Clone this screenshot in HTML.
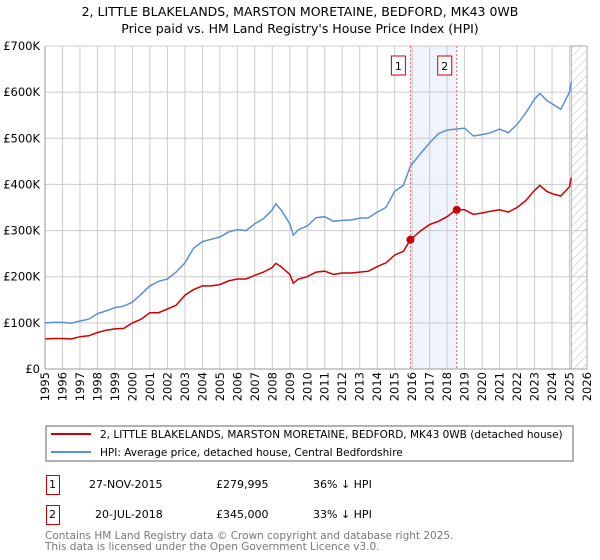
<!DOCTYPE html>
<html><head><meta charset="utf-8"><style>
body{margin:0;background:#fff;font-family:"DejaVu Sans","Liberation Sans",sans-serif;}
#wrap{position:relative;width:600px;height:560px;overflow:hidden;}
</style></head><body>
<div id="wrap">
<svg id="chart" width="600" height="560" font-family="DejaVu Sans, Liberation Sans, sans-serif">
<defs><pattern id="hatch" width="6" height="6" patternUnits="userSpaceOnUse" patternTransform="rotate(45)"><line x1="0" y1="0" x2="0" y2="6" stroke="#bbb" stroke-width="1"/></pattern></defs>
<text x="300" y="16" text-anchor="middle" font-size="12.5">2, LITTLE BLAKELANDS, MARSTON MORETAINE, BEDFORD, MK43 0WB</text>
<text x="300" y="33" text-anchor="middle" font-size="12.5">Price paid vs. HM Land Registry's House Price Index (HPI)</text>
<g id="grid"></g><g id="marks"></g><g id="axes"></g>
<rect x="46" y="426" width="527" height="35" fill="#fff" stroke="#666"/>
<line x1="51" y1="434" x2="91" y2="434" stroke="#cc0000" stroke-width="2"/>
<text x="100" y="438" font-size="10.5">2, LITTLE BLAKELANDS, MARSTON MORETAINE, BEDFORD, MK43 0WB (detached house)</text>
<line x1="51" y1="452" x2="91" y2="452" stroke="#5b8fd4" stroke-width="2"/>
<text x="100" y="456" font-size="10.5">HPI: Average price, detached house, Central Bedfordshire</text>
<g font-size="11">
<rect x="46.5" y="475.5" width="13" height="19" fill="#fff" stroke="#cc0000"/><text x="49" y="488">1</text>
<text x="89" y="488">27-NOV-2015</text><text x="216" y="488">£279,995</text><text x="313" y="488">36% ↓ HPI</text></g>
<g font-size="11">
<rect x="46.5" y="505.5" width="13" height="19" fill="#fff" stroke="#cc0000"/><text x="49" y="518">2</text>
<text x="95" y="518">20-JUL-2018</text><text x="216" y="518">£345,000</text><text x="313" y="518">33% ↓ HPI</text></g>
<text x="45" y="539" font-size="10.5" fill="#777">Contains HM Land Registry data © Crown copyright and database right 2025.</text>
<text x="45" y="550" font-size="10.5" fill="#777">This data is licensed under the Open Government Licence v3.0.</text>
</svg></div>
<script>
const yearTicks=[1995,1996,1997,1998,1999,2000,2001,2002,2003,2004,2005,2006,2007,2008,2009,2010,2011,2012,2013,2014,2015,2016,2017,2018,2019,2020,2021,2022,2023,2024,2025,2026];
const priceTicks=[0,100,200,300,400,500,600,700];
const priceTickLabels=["£0","£100K","£200K","£300K","£400K","£500K","£600K","£700K"];
const hpiDates=[1995,1995.5,1996,1996.5,1997,1997.5,1998,1998.5,1999,1999.5,2000,2000.5,2001,2001.5,2002,2002.5,2003,2003.5,2004,2004.5,2005,2005.5,2006,2006.5,2007,2007.5,2008,2008.2,2008.5,2009,2009.2,2009.5,2010,2010.5,2011,2011.5,2012,2012.5,2013,2013.5,2014,2014.5,2015,2015.5,2015.9,2016.5,2017,2017.5,2018,2018.5,2019,2019.5,2020,2020.5,2021,2021.5,2022,2022.5,2023,2023.3,2023.7,2024,2024.5,2025,2025.1];
const hpiValues=[100,101,101,99,104,108,120,126,133,136,145,162,180,190,195,210,230,262,276,281,286,297,302,300,315,326,345,358,345,315,290,302,310,328,330,320,322,323,327,328,340,350,385,398,440,468,490,510,518,520,522,505,508,512,520,512,530,555,585,597,582,575,563,600,622];
const propValues=[65,66,66,65,70,72,79,84,87,88,100,108,122,122,130,138,160,172,180,180,183,191,195,195,203,210,220,229,222,205,186,195,200,210,212,205,208,208,210,212,222,230,247,255,280,300,313,320,330,345,345,335,338,342,345,340,350,365,387,398,385,380,375,395,415];
const saleDates=[2015.9,2018.55];
const saleValues=[279.995,345];
const saleLabels=["1","2"];
const X=y=>45+(y-1995)*(542/31);
const Y=v=>369-v*(323/700);
const NS="http://www.w3.org/2000/svg";
function mk(p,t,a){const e=document.createElementNS(NS,t);for(const k in a)e.setAttribute(k,a[k]);p.appendChild(e);return e;}
const grid=document.getElementById('grid'),marks=document.getElementById('marks'),axes=document.getElementById('axes');
let sh=mk(grid,'rect',{x:X(saleDates[0]),y:46,width:X(saleDates[1])-X(saleDates[0]),height:323,fill:'#eef3fc'});


yearTicks.forEach(t=>{mk(grid,'line',{x1:X(t),x2:X(t),y1:46,y2:369,stroke:'#ccc'});
const l=mk(axes,'text',{x:0,y:0,'font-size':11.5,transform:`translate(${X(t)+4},372) rotate(-90)`,'text-anchor':'end'});l.textContent=t;

});
priceTicks.forEach((t,i)=>{mk(grid,'line',{x1:45,x2:587,y1:Y(t),y2:Y(t),stroke:'#ccc'});
const l=mk(axes,'text',{x:40,y:Y(t)+4,'font-size':11.5,'text-anchor':'end'});l.textContent=priceTickLabels[i];

});
let h=mk(grid,'rect',{x:X(2025.1),y:46,width:587-X(2025.1),height:323,fill:'url(#hatch)',stroke:'#aaa'});


mk(axes,'line',{x1:45,x2:45,y1:46,y2:369,stroke:'#999'});
mk(axes,'line',{x1:45,x2:587,y1:369,y2:369,stroke:'#999'});
const path=v=>hpiDates.map((d,i)=>(i?'L':'M')+X(d).toFixed(1)+','+Y(v[i]).toFixed(1)).join('');
let hp=mk(marks,'path',{d:path(hpiValues),fill:'none',stroke:'#5b8fd4','stroke-width':1.5});


let pp=mk(marks,'path',{d:path(propValues),fill:'none',stroke:'#cc0000','stroke-width':1.5});


saleDates.forEach((d,i)=>{
mk(marks,'line',{x1:X(d),x2:X(d),y1:46,y2:369,stroke:'#e66','stroke-dasharray':'2,2'});
const c=mk(marks,'circle',{cx:X(d),cy:Y(saleValues[i]),r:4,fill:'#cc0000'});


const r=mk(marks,'rect',{x:X(d)-19,y:56,width:14,height:19,fill:'#fff',stroke:'#cc0000'});


const t=mk(marks,'text',{x:X(d)-12,y:70,'font-size':11,'text-anchor':'middle'});t.textContent=saleLabels[i];});
</script>
</body></html>
